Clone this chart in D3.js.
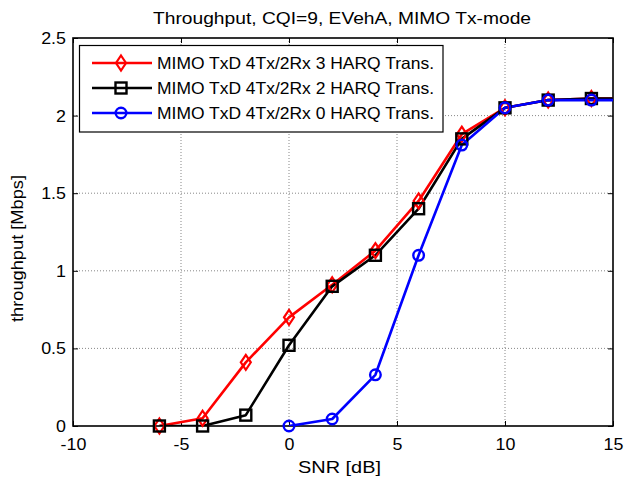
<!DOCTYPE html>
<html><head><meta charset="utf-8">
<script src="https://cdn.jsdelivr.net/npm/d3@7"></script>
<style>body{margin:0;background:#fff}svg{display:block;font-family:"Liberation Sans",Arial,sans-serif}</style>
</head><body><svg id="c" width="627" height="484"></svg>
<script>
const snr = [-6,-4,-2,0,2,4,6,8,10,12,14,16];
const harq3 = [0,0.05,0.41,0.70,0.91,1.13,1.45,1.88,2.05,2.10,2.11,2.11];
const harq2 = [0,0,0.07,0.52,0.90,1.10,1.40,1.85,2.05,2.10,2.11,2.11];
const snr0 = [0,2,4,6,8,10,12,14,16];
const harq0 = [0,0.045,0.33,1.10,1.81,2.05,2.10,2.10,2.10];
const xTicks = [-10,-5,0,5,10,15];
const yTicks = [0,0.5,1,1.5,2,2.5];
const labels = ["MIMO TxD 4Tx/2Rx 3 HARQ Trans.","MIMO TxD 4Tx/2Rx 2 HARQ Trans.","MIMO TxD 4Tx/2Rx 0 HARQ Trans."];

const svg = d3.select("#c");
const L=73, R=613, T=38, B=426;
const x = d3.scaleLinear().domain([-10,15]).range([L,R]);
const y = d3.scaleLinear().domain([0,2.5]).range([B,T]);

svg.append("rect").attr("width",627).attr("height",484).attr("fill","#fff");
svg.append("defs").append("clipPath").attr("id","clip").append("rect")
  .attr("x",L).attr("y",T).attr("width",R-L).attr("height",B-T);

// grid
const g = svg.append("g");
xTicks.slice(1,-1).forEach(v=>g.append("line").attr("x1",x(v)).attr("x2",x(v)).attr("y1",T).attr("y2",B)
  .attr("stroke","#555").attr("stroke-width",0.7).attr("stroke-dasharray","1,2"));
yTicks.slice(1,-1).forEach(v=>g.append("line").attr("x1",L).attr("x2",R).attr("y1",y(v)).attr("y2",y(v))
  .attr("stroke","#555").attr("stroke-width",0.7).attr("stroke-dasharray","1,2"));

// axes
const fs = "17px";
const ax = svg.append("g").attr("transform",`translate(0,${B})`)
  .call(d3.axisBottom(x).tickValues(xTicks).tickSize(-5).tickPadding(12).tickFormat(d=>String(d)));
const ay = svg.append("g").attr("transform",`translate(${L},0)`)
  .call(d3.axisLeft(y).tickValues(yTicks).tickSize(-5).tickPadding(7).tickFormat(d=>String(d)));
const axT = svg.append("g").attr("transform",`translate(0,${T})`)
  .call(d3.axisTop(x).tickValues(xTicks).tickSize(-5).tickFormat(""));
const ayR = svg.append("g").attr("transform",`translate(${R},0)`)
  .call(d3.axisRight(y).tickValues(yTicks).tickSize(-5).tickFormat(""));
[ax,ay,axT,ayR].forEach(a=>{
  a.select(".domain").remove();
  a.selectAll("line").attr("stroke","#000");
  a.selectAll("text").attr("font-size",fs).attr("fill","#000").attr("font-family","Liberation Sans, Arial, sans-serif");
});
ax.selectAll("text").attr("transform","scale(1.05,1)");
ay.selectAll("text").attr("x",0).attr("transform","translate(-7,0) scale(1.05,1)");
svg.append("rect").attr("x",L).attr("y",T).attr("width",R-L).attr("height",B-T)
  .attr("fill","none").attr("stroke","#000").attr("stroke-width",1.6);

// series
const series = [
  {xs:snr, ys:harq3, color:"#ff0000", mk:"diamond"},
  {xs:snr, ys:harq2, color:"#000000", mk:"square"},
  {xs:snr0, ys:harq0, color:"#0000ff", mk:"circle"}
];
function marker(sel, type, color, cx, cy){
  if(type==="diamond"){
    sel.append("path").attr("d",`M${cx},${cy-7.5}L${cx+5},${cy}L${cx},${cy+7.5}L${cx-5},${cy}Z`)
      .attr("fill","none").attr("stroke",color).attr("stroke-width",2.2);
  } else if(type==="square"){
    sel.append("rect").attr("x",cx-5.5).attr("y",cy-5.5).attr("width",11).attr("height",11)
      .attr("fill","none").attr("stroke",color).attr("stroke-width",2.4);
  } else {
    sel.append("circle").attr("cx",cx).attr("cy",cy).attr("r",5.3)
      .attr("fill","none").attr("stroke",color).attr("stroke-width",2.4);
  }
}
const plot = svg.append("g").attr("clip-path","url(#clip)");
const line = d3.line();
series.forEach(s=>{
  const pts = s.xs.map((v,i)=>[x(v),y(s.ys[i])]);
  plot.append("path").attr("d",line(pts)).attr("fill","none").attr("stroke",s.color)
    .attr("stroke-width",2.6).attr("stroke-linejoin","round");
  const mg = svg.append("g");
  s.xs.forEach((v,i)=>{ if(v<=15) marker(mg,s.mk,s.color,x(v),y(s.ys[i])); });
});

// legend
const lg = svg.append("g");
lg.append("rect").attr("x",79.5).attr("y",45.5).attr("width",363.5).attr("height",86.5)
  .attr("fill","#fff").attr("stroke","#000").attr("stroke-width",1.2);
const ly=[63,88,113];
series.forEach((s,i)=>{
  lg.append("line").attr("x1",92).attr("x2",152).attr("y1",ly[i]).attr("y2",ly[i])
    .attr("stroke",s.color).attr("stroke-width",2.6);
  marker(lg,s.mk,s.color,121,ly[i]);
  lg.append("text").attr("x",157).attr("y",ly[i]+6).attr("font-size","16.5px")
    .attr("textLength",277).attr("lengthAdjust","spacingAndGlyphs").text(labels[i]);
});

// titles
svg.append("text").attr("x",153).attr("y",24).attr("font-size","17px")
  .attr("textLength",378).attr("lengthAdjust","spacingAndGlyphs")
  .text("Throughput, CQI=9, EVehA, MIMO Tx-mode");
svg.append("text").attr("x",298).attr("y",473).attr("font-size","17px")
  .attr("textLength",83).attr("lengthAdjust","spacingAndGlyphs").text("SNR [dB]");
svg.append("text").attr("transform","translate(23,322) rotate(-90)")
  .attr("font-size","17px").attr("textLength",147).attr("lengthAdjust","spacingAndGlyphs")
  .text("throughput [Mbps]");
</script></body></html>
